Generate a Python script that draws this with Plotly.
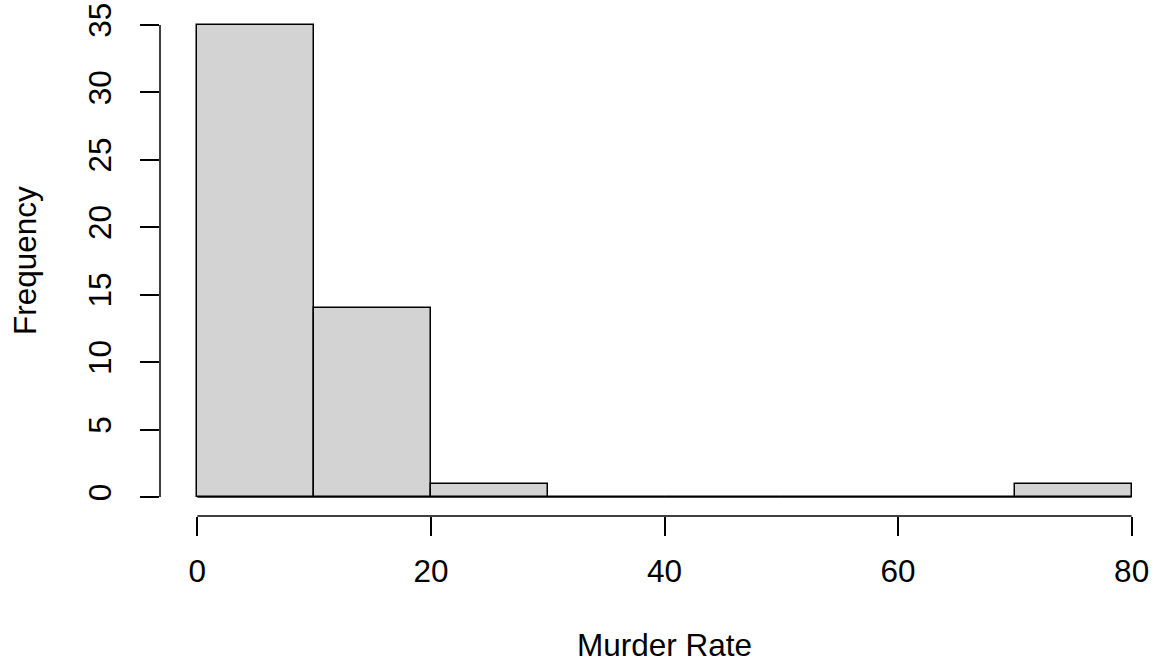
import plotly.graph_objects as go

# Data (R-style histogram of murder rates)
breaks = [0, 10, 20, 30, 40, 50, 60, 70, 80]
counts = [35, 14, 1, 0, 0, 0, 0, 1]
x_ticks = [0, 20, 40, 60, 80]
y_ticks = [0, 5, 10, 15, 20, 25, 30, 35]
x_title = "Murder Rate"
y_title = "Frequency"

mids = [(a + b) / 2 for a, b in zip(breaks[:-1], breaks[1:])]
widths = [b - a for a, b in zip(breaks[:-1], breaks[1:])]

FONT = "Liberation Sans, Arial, Helvetica, sans-serif"
FS = 31.5
LW = 1.5

fig = go.Figure()
# zero-height bins are drawn as a line at the baseline (like R's rect outlines)
fig.add_trace(go.Scatter(
    x=[breaks[0], breaks[-1]], y=[0, 0], mode="lines",
    line=dict(color="black", width=LW), hoverinfo="skip", showlegend=False))
fig.add_trace(go.Bar(
    x=mids, y=counts, width=widths,
    marker=dict(color="#D3D3D3", line=dict(color="black", width=LW)),
    showlegend=False))

fig.update_layout(
    template="none",
    width=1153, height=666,
    margin=dict(l=160, r=0, t=6, b=150, pad=0),
    plot_bgcolor="white", paper_bgcolor="white",
    font=dict(family=FONT, size=FS, color="black"),
    bargap=0,
    xaxis=dict(range=[-3.2, 81.83], tickvals=x_ticks, ticktext=[str(v) for v in x_ticks],
               ticks="outside", ticklen=19, tickwidth=LW, tickcolor="black",
               showline=False, showgrid=False, zeroline=False, automargin=False,
               ticklabelstandoff=8),
    yaxis=dict(range=[-1.4, 36.4], tickvals=y_ticks, ticktext=[str(v) for v in y_ticks],
               ticks="outside", ticklen=19, tickwidth=LW, tickcolor="black",
               tickangle=-90,
               showline=False, showgrid=False, zeroline=False, automargin=False,
               ticklabelstandoff=16),
    shapes=[
        dict(type="line", xref="x", yref="paper", x0=x_ticks[0], x1=x_ticks[-1], y0=0, y1=0,
             line=dict(color="black", width=LW)),
        dict(type="line", xref="paper", yref="y", x0=0, x1=0, y0=y_ticks[0], y1=y_ticks[-1],
             line=dict(color="black", width=LW)),
    ],
    annotations=[
        dict(text=x_title, xref="x", yref="paper", x=(x_ticks[0] + x_ticks[-1]) / 2,
             y=-(665 - 516) / 510, xanchor="center", yanchor="bottom", showarrow=False,
             font=dict(family=FONT, size=FS, color="black")),
        dict(text=y_title, xref="paper", yref="paper", x=-(160 - 25) / 993, y=0.5,
             xanchor="center", yanchor="middle", textangle=-90, showarrow=False,
             font=dict(family=FONT, size=FS, color="black")),
    ],
)

fig.write_html("out.html", config={"displayModeBar": False},
               post_script="document.body.style.margin='0';")
